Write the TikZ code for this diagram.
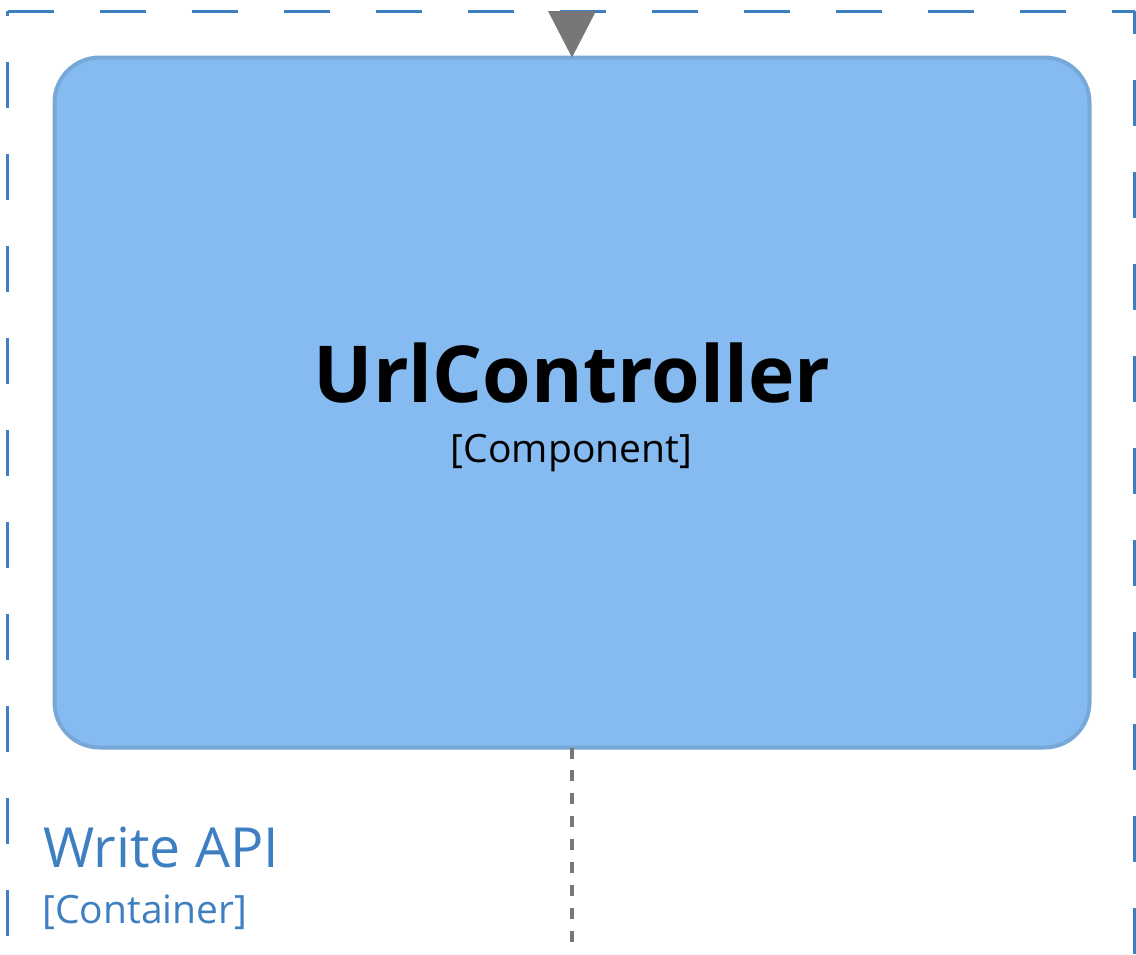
\documentclass[tikz,border=0pt]{standalone}
\usepackage{fontspec}
\setmainfont{Open Sans}
\usetikzlibrary{arrows.meta}
\definecolor{cblue}{RGB}{61,127,193}
\definecolor{boxfill}{RGB}{133,187,240}
\definecolor{boxline}{RGB}{120,168,216}
\definecolor{relgray}{RGB}{119,119,119}
\tikzset{
  compbox/.style={draw=boxline, fill=boxfill, line width=4pt, rounded corners=45pt,
    minimum width=1035pt, minimum height=690pt, inner sep=0pt, outer sep=0pt},
  contline/.style={draw=cblue, line width=2.5pt, dash pattern=on 46pt off 46pt},
  rel/.style={draw=relgray, line width=4.7pt, dash pattern=on 11pt off 11.95pt},
  lbl/.style={inner sep=0pt, outer sep=0pt},
}
\begin{document}
\begin{tikzpicture}[x=1pt,y=-1pt]
\useasboundingbox (0,0) rectangle (1136,954);
\clip (0,0) rectangle (1136,954);
% container boundary
\coordinate (cnw) at (7.7,11.3);
\coordinate (cne) at (1134.5,11.3);
\coordinate (csw) at (7.7,1100);
\coordinate (cse) at (1134.5,1100);
\draw[contline] (cnw) -- (cne);
\draw[contline, dash phase=23pt] (cne) -- (cse);
\draw[contline, dash phase=41.3pt] (cnw) -- (csw);
% component
\node[compbox] (comp) at (572,402.5) {};
\node[lbl, anchor=base, font=\fontsize{78.6}{94}\selectfont\bfseries] (title) at (572,402) {UrlController};
\node[lbl, anchor=base, font=\fontsize{39}{47}\selectfont] (ctype) at (571.5,462) {[Component]};
% container labels
\node[lbl, anchor=base west, text=cblue, font=\fontsize{55.3}{66}\selectfont] (cname) at (43,867) {Write API};
\node[lbl, anchor=base west, text=cblue, font=\fontsize{39}{47}\selectfont] (cctype) at (42.5,923) {[Container]};
% relationships
\coordinate (intop) at (572,11.5);
\coordinate (outbot) at (572,954);
\draw[relgray, line width=0pt, -{Triangle[length=46.5pt,width=48pt]}, fill=relgray] (intop) -- (comp.north);
\draw[rel] (comp.south) -- (outbot);
\end{tikzpicture}
\end{document}
